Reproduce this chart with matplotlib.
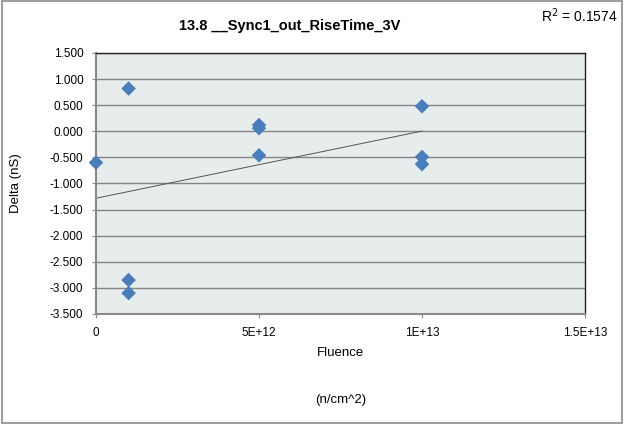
import matplotlib
matplotlib.use("Agg")
from matplotlib import pyplot as plt
from matplotlib.patches import Rectangle
import numpy as np

plt.rcParams['font.family'] = ['Liberation Sans', 'DejaVu Sans']

# fluence (n/cm^2) and delta (nS)
fluence = [0, 1e12, 1e12, 1e12, 5e12, 5e12, 5e12, 1e13, 1e13, 1e13]
delta = [-0.60, 0.82, -2.85, -3.10, 0.12, 0.06, -0.46, 0.48, -0.49, -0.63]
xticks = [0, 5e12, 1e13, 1.5e13]
xtick_labels = ["0", "5E+12", "1E+13", "1.5E+13"]
yticks = np.arange(-3.5, 1.51, 0.5)
r_squared = 0.1574

fig = plt.figure(figsize=(6.24, 4.24), dpi=100)
ax = fig.add_axes([96 / 624, 1 - 314 / 424, (585 - 96) / 624, (314 - 53) / 424])
ax.set_facecolor("#E7ECEC")

# outer chart border
fig.patches.append(Rectangle((0.003, 0.003), 0.994, 0.994, transform=fig.transFigure,
                             fill=False, edgecolor="#8C8C8C", linewidth=1.2))

for y in yticks:
    ax.axhline(y, color="#858585", linewidth=1.0, zorder=1)

# linear trendline
slope, intercept = np.polyfit(fluence, delta, 1)
xs = np.array([0, max(fluence)])
ax.plot(xs, slope * xs + intercept, color="#555555", linewidth=0.7, zorder=2)

ax.scatter(fluence, delta, marker="D", s=55, color="#4A7EBB", edgecolors="none",
           zorder=3, clip_on=False)

ax.set_xlim(0, 1.5e13)
ax.set_ylim(-3.5, 1.5)
ax.set_xticks(xticks)
ax.set_xticklabels(xtick_labels)
ax.set_yticks(yticks)
ax.set_yticklabels(["%.3f" % v for v in yticks])
ax.tick_params(labelsize=8.5, length=3, color="#8A8A8A", pad=6)

for side in ["left", "bottom"]:
    ax.spines[side].set_color("#8A8A8A")
    ax.spines[side].set_linewidth(1.5)
for side in ["top", "right"]:
    ax.spines[side].set_color("#222222")
    ax.spines[side].set_linewidth(1.0)

fig.text(16 / 624, 1 - 183 / 424, "Delta (nS)", ha="center", va="center", rotation=90, fontsize=9.5)
fig.text(0.5 * (96 + 585) / 624, 1 - 353 / 424, "Fluence", ha="center", va="center", fontsize=9.5)
fig.text(0.5 * (96 + 585) / 624, 1 - 400 / 424, "(n/cm^2)", ha="center", va="center", fontsize=9.5)
fig.text(290 / 624, 1 - 26 / 424, "13.8 __Sync1_out_RiseTime_3V", ha="center", va="center",
         fontsize=10.5, fontweight="bold")
fig.text(617 / 624, 1 - 16 / 424, "R$^2$ = %.4f" % r_squared, ha="right", va="center", fontsize=10)

fig.savefig("out.png", dpi=100)
